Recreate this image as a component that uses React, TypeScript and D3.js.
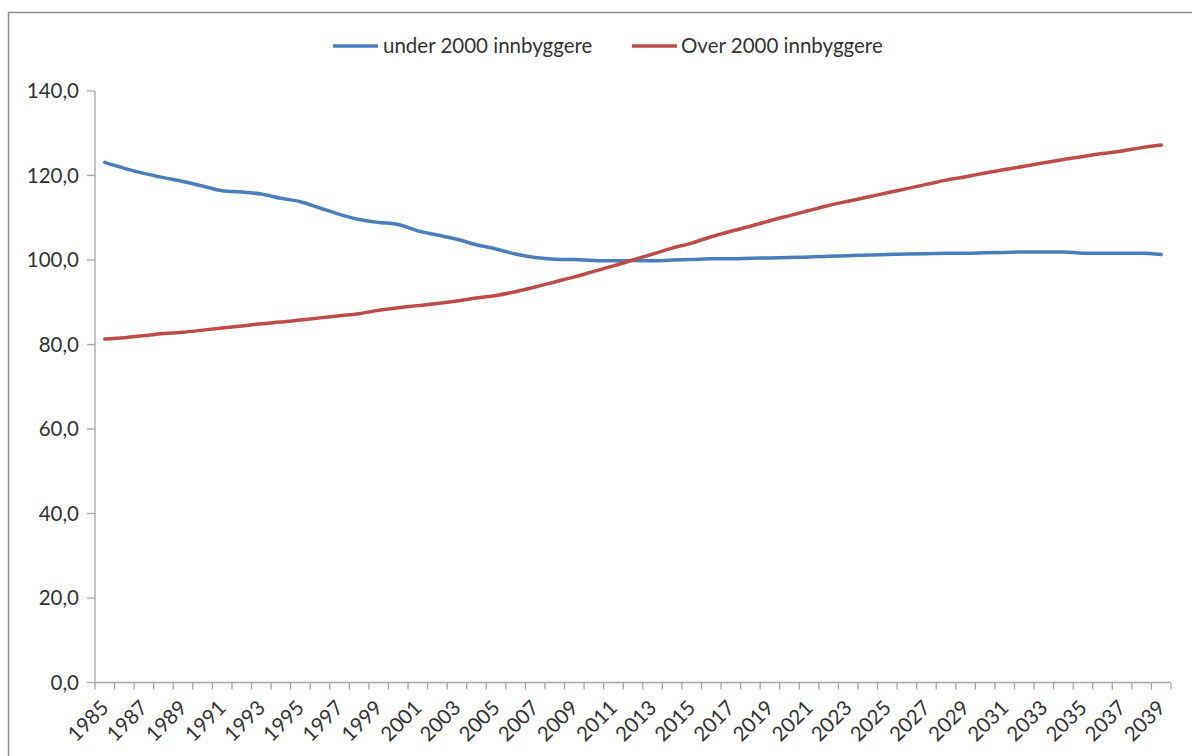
import React from "react";
import * as d3 from "d3";

const years: number[] = [
  1985, 1986, 1987, 1988, 1989, 1990, 1991, 1992, 1993, 1994, 1995, 1996, 1997, 1998, 1999,
  2000, 2001, 2002, 2003, 2004, 2005, 2006, 2007, 2008, 2009, 2010, 2011, 2012, 2013, 2014,
  2015, 2016, 2017, 2018, 2019, 2020, 2021, 2022, 2023, 2024, 2025, 2026, 2027, 2028, 2029,
  2030, 2031, 2032, 2033, 2034, 2035, 2036, 2037, 2038, 2039,
];

const under2000: number[] = [
  123.1, 121.7, 120.5, 119.5, 118.6, 117.5, 116.4, 116.1, 115.6, 114.6, 113.8, 112.3, 110.8, 109.6, 108.9,
  108.4, 106.9, 105.9, 104.9, 103.6, 102.6, 101.4, 100.6, 100.2, 100.1, 99.9, 99.8, 99.9, 99.8, 100.0,
  100.1, 100.3, 100.3, 100.4, 100.5, 100.6, 100.7, 100.9, 101.0, 101.2, 101.3, 101.4, 101.5, 101.6, 101.6,
  101.7, 101.8, 101.9, 101.9, 101.9, 101.6, 101.6, 101.6, 101.6, 101.3,
];

const over2000: number[] = [
  81.3, 81.6, 82.1, 82.6, 82.9, 83.4, 83.9, 84.4, 84.9, 85.3, 85.8, 86.3, 86.8, 87.3, 88.1,
  88.7, 89.2, 89.7, 90.3, 91.0, 91.6, 92.5, 93.6, 94.8, 96.0, 97.3, 98.6, 100.0, 101.4, 102.8,
  104.0, 105.5, 106.8, 108.0, 109.3, 110.5, 111.7, 112.9, 113.9, 114.9, 115.9, 116.9, 117.9, 118.9, 119.7,
  120.6, 121.4, 122.2, 123.0, 123.8, 124.5, 125.2, 125.8, 126.6, 127.2,
];

const yTicks: number[] = [0, 20, 40, 60, 80, 100, 120, 140];
const seriesNames: string[] = ["under 2000 innbyggere", "Over 2000 innbyggere"];
const seriesColors: string[] = ["#4a7ebb", "#be4b48"];

const W = 1192;
const H = 756;
const FONT = "Lato, 'Open Sans', sans-serif";
const TEXT = "#333333";
const AXIS = "#a6a6a6";
const FS = 20.5;

export default function App() {
  const left = 95;
  const right = 1171;
  const top = 91;
  const bottom = 682.5;

  const x = d3
    .scaleBand<number>()
    .domain(years)
    .range([left, right])
    .paddingInner(0)
    .paddingOuter(0);
  const cx = (yr: number) => (x(yr) as number) + x.bandwidth() / 2;
  const y = d3.scaleLinear().domain([0, 140]).range([bottom, top]);

  const line = d3
    .line<number>()
    .x((_, i) => cx(years[i]))
    .y((v) => y(v))
    .curve(d3.curveMonotoneX);

  const series = [under2000, over2000];

  const boundaries = years.map((yr) => x(yr) as number).concat([right]);

  const legendItems = [
    { lx: 333, tx: 383 },
    { lx: 632, tx: 681 },
  ];

  return (
    <svg
      width={W}
      height={H}
      style={{ position: "absolute", left: 0, top: 0, background: "#fff" }}
      fontFamily={FONT}
    >
      {/* outer frame */}
      <rect x={8.5} y={12.5} width={1200} height={800} fill="#fff" stroke="#8c8c8c" strokeWidth={1.5} />

      {/* legend */}
      {seriesNames.map((name, i) => (
        <g key={name}>
          <line
            x1={legendItems[i].lx}
            x2={legendItems[i].lx + 45}
            y1={46}
            y2={46}
            stroke={seriesColors[i]}
            strokeWidth={3.5}
          />
          <text x={legendItems[i].tx} y={46} dy="0.35em" fontSize={FS} fill={TEXT}>
            {name}
          </text>
        </g>
      ))}

      {/* y axis */}
      <line x1={left} x2={left} y1={top} y2={bottom} stroke={AXIS} strokeWidth={1.3} />
      {yTicks.map((t) => (
        <g key={t}>
          <line x1={left - 8} x2={left} y1={y(t)} y2={y(t)} stroke={AXIS} strokeWidth={1.3} />
          <text x={79} y={y(t)} dy="0.35em" textAnchor="end" fontSize={FS} fill={TEXT}>
            {d3.format(".1f")(t).replace(".", ",")}
          </text>
        </g>
      ))}

      {/* x axis */}
      <line x1={left} x2={right} y1={bottom} y2={bottom} stroke={AXIS} strokeWidth={1.3} />
      {boundaries.map((bx, i) => (
        <line key={i} x1={bx} x2={bx} y1={bottom} y2={bottom + 7} stroke={AXIS} strokeWidth={1.3} />
      ))}
      {years
        .filter((_, i) => i % 2 === 0)
        .map((yr) => (
          <text
            key={yr}
            transform={`translate(${cx(yr)},${704}) rotate(-45)`}
            dy="0.35em"
            textAnchor="end"
            fontSize={FS}
            fill={TEXT}
          >
            {yr}
          </text>
        ))}

      {/* lines */}
      {series.map((s, i) => (
        <path
          key={i}
          d={line(s) || ""}
          fill="none"
          stroke={seriesColors[i]}
          strokeWidth={3.5}
          strokeLinejoin="round"
          strokeLinecap="round"
        />
      ))}
    </svg>
  );
}
